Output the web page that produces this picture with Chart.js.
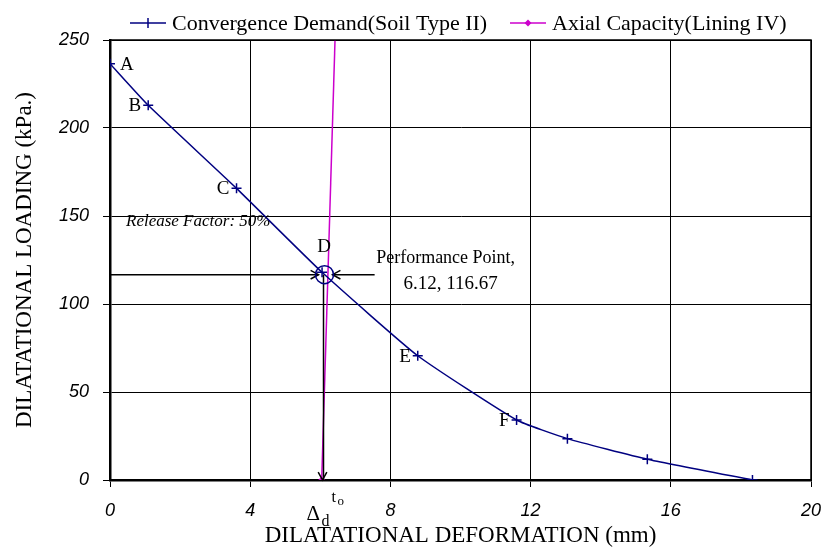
<!DOCTYPE html>
<html>
<head>
<meta charset="utf-8">
<script src="https://cdn.jsdelivr.net/npm/chart.js@4.4.1/dist/chart.umd.min.js"></script>
<style>
  html, body { margin: 0; padding: 0; background: #fff; }
  #wrap { width: 824px; height: 550px; position: relative; }
</style>
</head>
<body>
<div id="wrap"><canvas id="myChart" width="824" height="550"></canvas></div>
<script>
// convergence demand curve (soil type II)
const demandX = [0, 1.09, 3.61, 6.05, 8.78, 11.6, 13.05, 15.33, 18.33];
const demandY = [236.5, 212.9, 165.7, 118, 70.6, 34.1, 23.5, 11.8, 0];
const demandTags = ["A", "B", "C", "D", "E", "F", "", "", ""];

// axial capacity line (lining IV)
const capacityX = [6.04, 6.42];
const capacityY = [0, 250];

// performance point
const perfX = 6.12;
const perfY = 116.67;

const xTicks = [0, 4, 8, 12, 16, 20];
const yTicks = [0, 50, 100, 150, 200, 250];

const serif = "'Liberation Serif', 'Times New Roman', serif";
const sans = "'Liberation Sans', Arial, sans-serif";
const navy = "#000080";
const magenta = "#cc00cc";

function pts(xs, ys) {
  return xs.map((x, i) => ({ x: x, y: ys[i] }));
}

function arrowHead(ctx, x, y, ang) {
  const len = 9, spread = 0.5;
  ctx.beginPath();
  ctx.moveTo(x - len * Math.cos(ang - spread), y - len * Math.sin(ang - spread));
  ctx.lineTo(x, y);
  ctx.lineTo(x - len * Math.cos(ang + spread), y - len * Math.sin(ang + spread));
  ctx.stroke();
}

const extras = {
  id: "extras",
  afterDatasetsDraw(chart) {
    const ctx = chart.ctx;
    const xs = chart.scales.x, ys = chart.scales.y;
    const area = chart.chartArea;
    ctx.save();

    // top + right frame
    ctx.strokeStyle = "#000";
    ctx.lineWidth = 1.5;
    ctx.beginPath();
    ctx.moveTo(area.left, area.top);
    ctx.lineTo(area.right, area.top);
    ctx.lineTo(area.right, area.bottom);
    ctx.stroke();

    // point letters
    ctx.fillStyle = "#000";
    ctx.font = "19px " + serif;
    ctx.textBaseline = "middle";
    demandTags.forEach((t, i) => {
      if (!t) return;
      const px = xs.getPixelForValue(demandX[i]);
      const py = ys.getPixelForValue(demandY[i]);
      if (t === "A") {
        ctx.textAlign = "left";
        ctx.fillText(t, px + 10, py + 1);
      } else if (t === "D") {
        ctx.textAlign = "center";
        ctx.fillText(t, px + 2, py - 25);
      } else {
        ctx.textAlign = "right";
        ctx.fillText(t, px - 7, py + 1);
      }
    });

    const ppx = xs.getPixelForValue(perfX);
    const ppy = ys.getPixelForValue(perfY);

    // release factor arrow (from y axis to the point)
    ctx.strokeStyle = "#000";
    ctx.lineWidth = 1.5;
    ctx.beginPath();
    ctx.moveTo(area.left, ppy);
    ctx.lineTo(ppx - 6, ppy);
    ctx.stroke();
    arrowHead(ctx, ppx - 6, ppy, 0);

    // vertical arrow down to t0
    ctx.beginPath();
    ctx.moveTo(ppx - 1, ppy);
    ctx.lineTo(ppx - 1, area.bottom);
    ctx.stroke();
    arrowHead(ctx, ppx - 2, area.bottom, Math.PI / 2);

    // arrow from the performance point label
    const lx = xs.getPixelForValue(7.55);
    ctx.beginPath();
    ctx.moveTo(lx, ppy);
    ctx.lineTo(ppx + 8, ppy);
    ctx.stroke();
    arrowHead(ctx, ppx + 8, ppy, Math.PI);

    // circle around the performance point
    ctx.strokeStyle = navy;
    ctx.lineWidth = 1.5;
    ctx.beginPath();
    ctx.arc(ppx, ppy, 9, 0, Math.PI * 2);
    ctx.stroke();

    // texts
    ctx.fillStyle = "#000";
    ctx.font = "italic 17px " + serif;
    ctx.textAlign = "left";
    ctx.fillText("Release Factor: 50%", area.left + 16, ys.getPixelForValue(147));

    ctx.font = "18px " + serif;
    ctx.textAlign = "center";
    ctx.fillText("Performance Point,", lx + 71, ppy - 16);
    ctx.font = "19px " + serif;
    ctx.fillText(perfX.toFixed(2) + ", " + perfY.toFixed(2), lx + 76, ppy + 9);

    // delta d / t0 under the axis
    ctx.textAlign = "left";
    ctx.font = "21px " + serif;
    ctx.fillText("\u0394", ppx - 18, area.bottom + 34);
    ctx.font = "16px " + serif;
    ctx.fillText("d", ppx - 3, area.bottom + 42);
    ctx.fillText("t", ppx + 7, area.bottom + 18);
    ctx.font = "13px " + serif;
    ctx.fillText("o", ppx + 13, area.bottom + 22);

    // legend
    const ly = 23;
    const items = [
      { label: chart.data.datasets[0].label, color: navy, mark: "cross", x: 130 },
      { label: chart.data.datasets[1].label, color: magenta, mark: "diamond", x: 510 }
    ];
    ctx.font = "22px " + serif;
    ctx.textAlign = "left";
    items.forEach(it => {
      ctx.strokeStyle = it.color;
      ctx.lineWidth = 1.5;
      ctx.beginPath();
      ctx.moveTo(it.x, ly);
      ctx.lineTo(it.x + 36, ly);
      ctx.stroke();
      const cx = it.x + 18;
      if (it.mark === "cross") {
        ctx.beginPath();
        ctx.moveTo(cx, ly - 5);
        ctx.lineTo(cx, ly + 5);
        ctx.stroke();
      } else {
        ctx.fillStyle = it.color;
        ctx.beginPath();
        ctx.moveTo(cx, ly - 3.5);
        ctx.lineTo(cx + 3.5, ly);
        ctx.lineTo(cx, ly + 3.5);
        ctx.lineTo(cx - 3.5, ly);
        ctx.closePath();
        ctx.fill();
      }
      ctx.fillStyle = "#000";
      ctx.fillText(it.label, it.x + 42, ly + 1);
    });

    ctx.restore();
  }
};

const ctxEl = document.getElementById("myChart");
const myChart = new Chart(ctxEl, {
  type: "scatter",
  data: {
    datasets: [
      {
        label: "Convergence Demand(Soil Type II)",
        data: pts(demandX, demandY),
        showLine: true,
        borderColor: navy,
        backgroundColor: navy,
        borderWidth: 1.5,
        tension: 0.15,
        pointStyle: "cross",
        pointRadius: 5,
        pointBorderWidth: 1.5,
        pointBorderColor: navy,
      },
      {
        label: "Axial Capacity(Lining IV)",
        data: pts(capacityX, capacityY),
        showLine: true,
        borderColor: magenta,
        backgroundColor: magenta,
        borderWidth: 1.5,
        pointStyle: "rectRot",
        pointRadius: [3.5, 0],
        pointBorderWidth: 0,
      },
    ],
  },
  options: {
    responsive: false,
    animation: false,
    devicePixelRatio: 1,
    layout: { autoPadding: false, padding: { top: 40, right: 13, bottom: 0, left: 0 } },
    plugins: {
      legend: { display: false },
      tooltip: { enabled: false },
    },
    scales: {
      x: {
        type: "linear",
        min: 0,
        max: 20,
        afterFit: (s) => { s.height = 70; s.paddingLeft = 0; s.paddingRight = 0; },
        afterBuildTicks: (s) => { s.ticks = xTicks.map(v => ({ value: v })); },
        ticks: {
          color: "#000",
          padding: 13,
          font: { family: sans, size: 18, style: "italic" },
        },
        grid: { color: "#000", lineWidth: 1, tickLength: 7 },
        border: { color: "#000", width: 2.5 },
        title: {
          display: true,
          text: "DILATATIONAL DEFORMATION (mm)",
          color: "#000",
          font: { family: serif, size: 23 },
          padding: { top: 0, bottom: 0 },
        },
      },
      y: {
        type: "linear",
        min: 0,
        max: 250,
        afterFit: (s) => { s.width = 110; s.paddingTop = 0; s.paddingBottom = 0; },
        afterBuildTicks: (s) => { s.ticks = yTicks.map(v => ({ value: v })); },
        ticks: {
          color: "#000",
          padding: 14,
          font: { family: sans, size: 18, style: "italic" },
        },
        grid: { color: "#000", lineWidth: 1, tickLength: 7 },
        border: { color: "#000", width: 2.5 },
        title: {
          display: true,
          text: "DILATATIONAL LOADING (kPa.)",
          color: "#000",
          font: { family: serif, size: 23 },
          padding: { top: 11, bottom: 0 },
        },
      },
    },
  },
  plugins: [extras],
});
</script>
</body>
</html>
